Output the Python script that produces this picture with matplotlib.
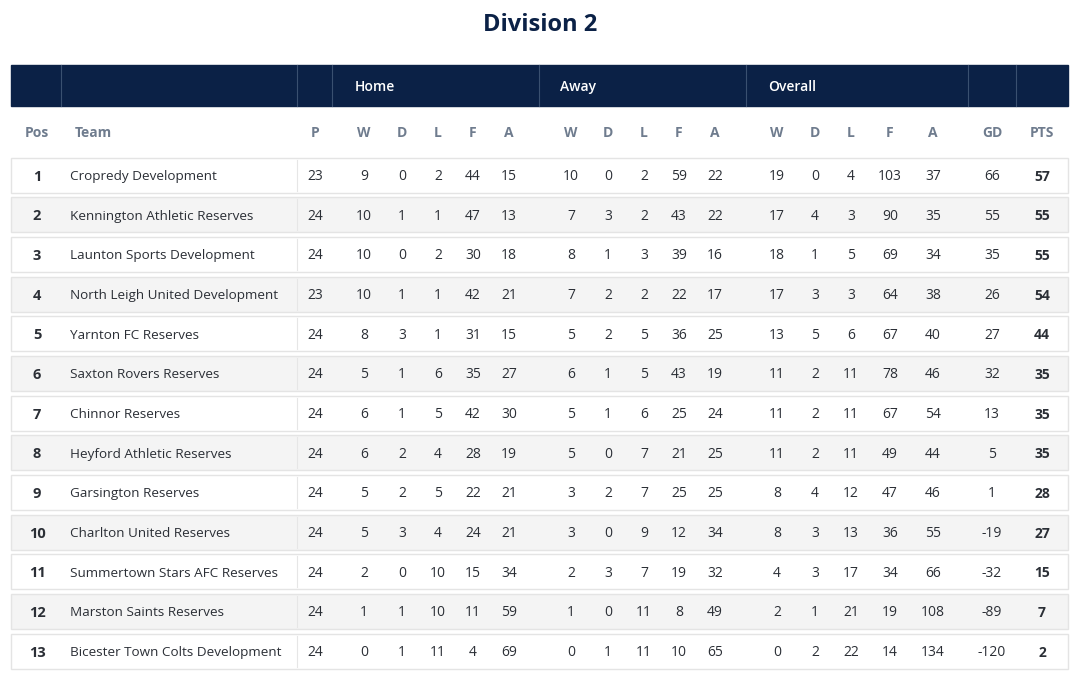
import matplotlib
matplotlib.use("Agg")
import matplotlib.pyplot as plt
from matplotlib.patches import Rectangle

teams = ["Cropredy Development","Kennington Athletic Reserves","Launton Sports Development",
         "North Leigh United Development","Yarnton FC Reserves","Saxton Rovers Reserves",
         "Chinnor Reserves","Heyford Athletic Reserves","Garsington Reserves",
         "Charlton United Reserves","Summertown Stars AFC Reserves","Marston Saints Reserves",
         "Bicester Town Colts Development"]
played = [23,24,24,23,24,24,24,24,24,24,24,24,24]
home_w = [9,10,10,10,8,5,6,6,5,5,2,1,0]
home_d = [0,1,0,1,3,1,1,2,2,3,0,1,1]
home_l = [2,1,2,1,1,6,5,4,5,4,10,10,11]
home_f = [44,47,30,42,31,35,42,28,22,24,15,11,4]
home_a = [15,13,18,21,15,27,30,19,21,21,34,59,69]
away_w = [10,7,8,7,5,6,5,5,3,3,2,1,0]
away_d = [0,3,1,2,2,1,1,0,2,0,3,0,1]
away_l = [2,2,3,2,5,5,6,7,7,9,7,11,11]
away_f = [59,43,39,22,36,43,25,21,25,12,19,8,10]
away_a = [22,22,16,17,25,19,24,25,25,34,32,49,65]
ov_w = [19,17,18,17,13,11,11,11,8,8,4,2,0]
ov_d = [0,4,1,3,5,2,2,2,4,3,3,1,2]
ov_l = [4,3,5,3,6,11,11,11,12,13,17,21,22]
ov_f = [103,90,69,64,67,78,67,49,47,36,34,19,14]
ov_a = [37,35,34,38,40,46,54,44,46,55,66,108,134]
gd = [66,55,35,26,27,32,13,5,1,-19,-32,-89,-120]
pts = [57,55,55,54,44,35,35,35,28,27,15,7,2]
col_labels = ["P","W","D","L","F","A","W","D","L","F","A","W","D","L","F","A","GD","PTS"]
groups = ["Home","Away","Overall"]

NAVY = "#0b2146"
GREY = "#6f7c8e"
TXT = "#2b2f36"

fig = plt.figure(figsize=(10.8, 6.85), dpi=100)
ax = fig.add_axes([0, 0, 1, 1])
ax.set_xlim(0, 1080); ax.set_ylim(685, 0); ax.axis("off")
fam = "Open Sans"

ax.text(540, 25, "Division 2", ha="center", va="center", fontsize=17, fontweight="bold", color=NAVY, family=fam)

ax.add_patch(Rectangle((11, 65), 1057, 41, color=NAVY, zorder=1))
for x in [61, 297, 332, 539, 746, 968, 1016]:
    ax.plot([x, x], [65, 106], color="#3a5070", lw=0.8, zorder=2)
for g, x in zip(groups, [355, 560, 768]):
    ax.text(x, 87, g, ha="left", va="center", fontsize=10, fontweight="semibold", color="white", family=fam, zorder=3)

xs = [315, 364, 402, 438, 473, 509, 571, 608, 644, 679, 715, 777, 815, 851, 890, 933, 992, 1042]
ax.text(37, 133, "Pos", ha="center", va="center", fontsize=10, color=GREY, fontweight="bold", family=fam)
ax.text(75, 133, "Team", ha="left", va="center", fontsize=10, color=GREY, fontweight="bold", family=fam)
for lab, x in zip(col_labels, xs):
    ax.text(x, 133, lab, ha="center", va="center", fontsize=10, color=GREY, fontweight="bold", family=fam)

cols = [played, home_w, home_d, home_l, home_f, home_a, away_w, away_d, away_l, away_f, away_a,
        ov_w, ov_d, ov_l, ov_f, ov_a, gd, pts]
y0, dy, h = 175, 39.67, 35
for i, team in enumerate(teams):
    y = y0 + i * dy
    fc = "white" if i % 2 == 0 else "#f4f4f4"
    ax.add_patch(Rectangle((11, y - h / 2), 1057, h, facecolor=fc, edgecolor="#e4e4e4", lw=1, zorder=1))
    ax.plot([297, 297], [y - h / 2 + 2, y + h / 2 - 2], color="#e6e6e6", lw=0.8, zorder=2)
    ty = y + 1.5
    ax.text(37, ty, str(i + 1), ha="center", va="center", fontsize=10.5, fontweight="bold", color=TXT, family=fam, zorder=3)
    ax.text(70, ty, team, ha="left", va="center", fontsize=9.7, color=TXT, family=fam, zorder=3)
    for j, (c, x) in enumerate(zip(cols, xs)):
        bold = j == len(cols) - 1
        ax.text(x, ty, str(c[i]), ha="center", va="center", fontsize=10, color=TXT,
                fontweight="bold" if bold else "normal", family=fam, zorder=3)

fig.savefig("out.png", dpi=100)
